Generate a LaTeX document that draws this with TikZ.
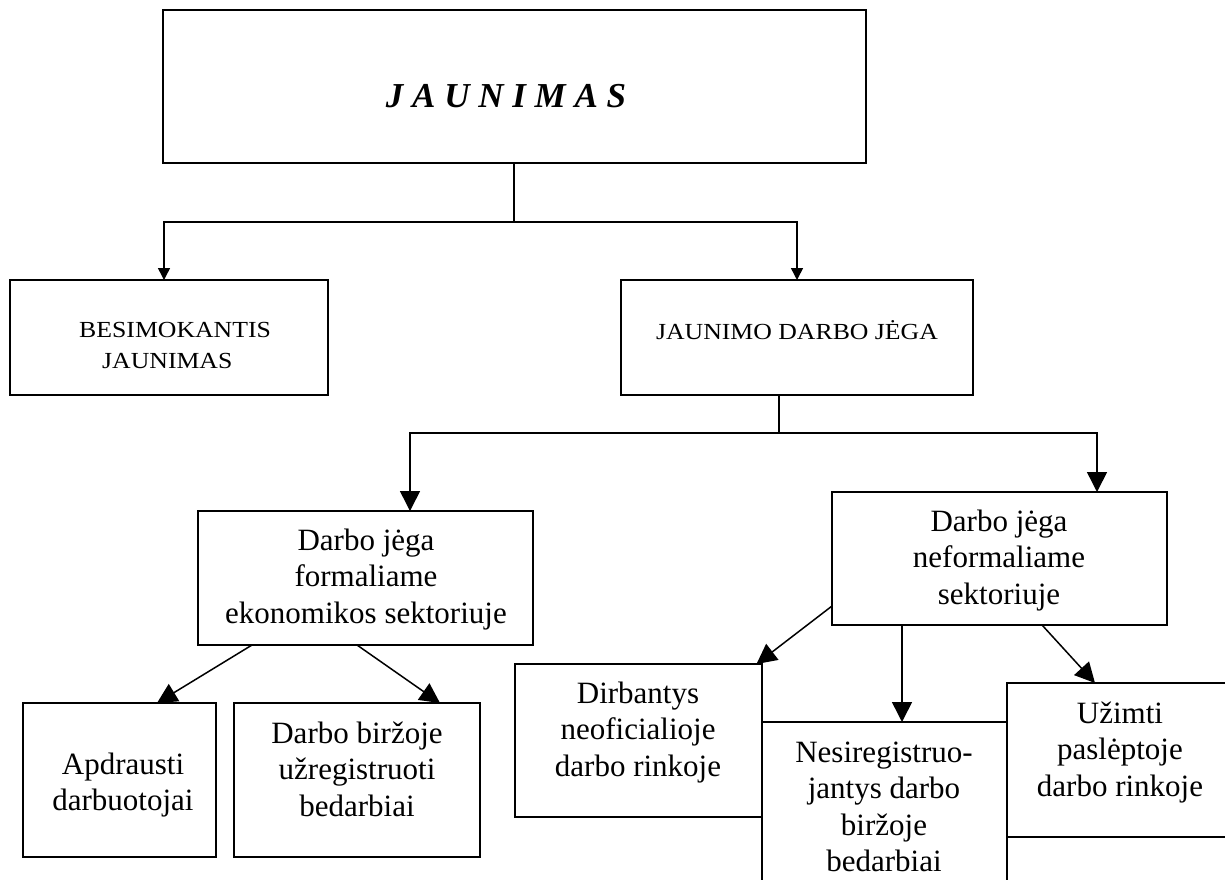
\documentclass[tikz,border=0pt]{standalone}
\usepackage{fontspec}
\setmainfont{Liberation Serif}
\newfontfamily\widerm[FakeStretch=1.12]{Liberation Serif}
\usetikzlibrary{arrows.meta}

\begin{document}
\begin{tikzpicture}[x=1pt,y=-1pt,
  box/.style={draw, line width=1.5pt, inner sep=0pt, outer sep=0pt},
  txt/.style={inner sep=0pt, align=center, font=\fontsize{31}{36.5}\selectfont},
  captxt/.style={inner sep=0pt, font=\widerm\fontsize{23}{31}\selectfont},
  link/.style={line width=1.5pt},
  arrS/.style={link, -{Triangle[length=12pt,width=12pt]}},
  arrL/.style={link, -{Triangle[length=20pt,width=20pt]}}]

\useasboundingbox (0,0) rectangle (1225,879);
\clip (0,0) rectangle (1225,879);

% boxes
\node[box, minimum width=703pt, minimum height=153pt] (top) at (514.5,86.5) {};
\node[box, minimum width=318pt, minimum height=115pt] (bes) at (169,337.5) {};
\node[box, minimum width=352pt, minimum height=115pt] (jdj) at (797,337.5) {};
\node[box, minimum width=335pt, minimum height=134pt] (form) at (365.5,578) {};
\node[box, minimum width=335pt, minimum height=133pt] (neform) at (999.5,558.5) {};
\node[box, minimum width=193pt, minimum height=154pt] (apd) at (119.5,780) {};
\node[box, minimum width=246pt, minimum height=154pt] (dbb) at (357,780) {};
\node[box, minimum width=247pt, minimum height=153pt] (dirb) at (638.5,740.5) {};
\node[box, minimum width=245pt, minimum height=178pt] (nes) at (884.5,811) {};
\node[box, minimum width=233pt, minimum height=154pt] (uzi) at (1123.5,760) {};

% texts
\node[inner sep=0pt, font=\fontsize{35}{41}\selectfont\bfseries\itshape] (ttop) at (506,99) {\strut J A U N I M A S};
\node[captxt, align=left, anchor=west] (tbes) at (79,346.3) {\strut BESIMOKANTIS\\\hspace*{23pt}\strut JAUNIMAS};
\node[captxt] (tjdj) at (797,332.8) {\strut JAUNIMO DARBO JĖGA};
\node[txt] (tform) at (366,579.2) {\strut Darbo jėga\\\strut formaliame\\\strut ekonomikos sektoriuje};
\node[txt] (tneform) at (999,560.2) {\strut Darbo jėga\\\strut neformaliame\\\strut sektoriuje};
\node[txt] (tapd) at (123,785) {\strut Apdrausti\\\strut darbuotojai};
\node[txt] (tdbb) at (357,772.2) {\strut Darbo biržoje\\\strut užregistruoti\\\strut bedarbiai};
\node[txt] (tdirb) at (638,732.2) {\strut Dirbantys\\\strut neoficialioje\\\strut darbo rinkoje};
\node[txt] (tnes) at (884,809.5) {\strut Nesiregistruo-\\\strut jantys darbo\\\strut biržoje\\\strut bedarbiai};
\node[txt] (tuzi) at (1120,752.2) {\strut Užimti\\\strut paslėptoje\\\strut darbo rinkoje};

% first level
\coordinate (j1) at (514,222);
\draw[link] ([xshift=-0.5pt]top.south) -- (j1);
\draw[arrS] (j1) -| ([xshift=-5pt]bes.north);
\draw[arrS] (j1) -| (jdj.north);

% second level
\coordinate (j2) at (779,433);
\draw[link] ([xshift=-18pt]jdj.south) -- (j2);
\draw[arrL] (j2) -| ([xshift=44.5pt]form.north);
\draw[arrL] (j2) -| ([xshift=97.5pt]neform.north);

% third level
\draw[arrL] ([xshift=-113.5pt]form.south) -- ([xshift=37.5pt]apd.north);
\draw[arrL] ([xshift=-8.5pt]form.south) -- ([xshift=83pt]dbb.north);
\draw[arrL] ([yshift=-47.5pt]neform.west) -- ([xshift=-5.5pt]dirb.north east);
\draw[arrL] ([xshift=-97.5pt]neform.south) -- ([xshift=17.5pt]nes.north);
\draw[arrL] ([xshift=42.5pt]neform.south) -- ([xshift=88pt]uzi.north west);
\end{tikzpicture}
\end{document}
